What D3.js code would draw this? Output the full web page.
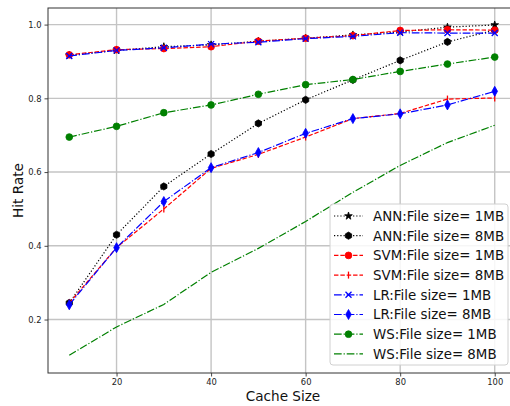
<!DOCTYPE html>
<html>
<head>
<meta charset="utf-8">
<script src="https://cdn.jsdelivr.net/npm/d3@7"></script>
<style>
  html, body { margin: 0; padding: 0; background: #fff; }
  svg { display: block; font-family: "DejaVu Sans", sans-serif; }
</style>
</head>
<body>
<svg id="chart" width="510" height="406"></svg>
<script>
// Cache sizes on the x axis
const cacheSizes = [10, 20, 30, 40, 50, 60, 70, 80, 90, 100];

// Hit rate per model and file size
const ann1MB = [0.917, 0.930, 0.940, 0.945, 0.955, 0.963, 0.972, 0.980, 0.993, 0.999];
const ann8MB = [0.245, 0.430, 0.561, 0.649, 0.732, 0.796, 0.850, 0.903, 0.953, 0.985];
const svm1MB = [0.918, 0.932, 0.935, 0.940, 0.955, 0.963, 0.970, 0.984, 0.986, 0.985];
const svm8MB = [0.245, 0.395, 0.500, 0.610, 0.648, 0.695, 0.745, 0.759, 0.798, 0.801];
const lr1MB  = [0.915, 0.930, 0.937, 0.947, 0.952, 0.962, 0.968, 0.978, 0.977, 0.977];
const lr8MB  = [0.240, 0.395, 0.520, 0.612, 0.653, 0.705, 0.745, 0.758, 0.782, 0.819];
const ws1MB  = [0.695, 0.724, 0.761, 0.782, 0.811, 0.837, 0.851, 0.873, 0.893, 0.912];
const ws8MB  = [0.103, 0.180, 0.241, 0.328, 0.393, 0.466, 0.545, 0.618, 0.680, 0.727];

const seriesNames = [
  "ANN:File size= 1MB", "ANN:File size= 8MB",
  "SVM:File size= 1MB", "SVM:File size= 8MB",
  "LR:File size= 1MB",  "LR:File size= 8MB",
  "WS:File size= 1MB",  "WS:File size= 8MB"
];
const seriesValues = [ann1MB, ann8MB, svm1MB, svm8MB, lr1MB, lr8MB, ws1MB, ws8MB];

const xTicks = [20, 40, 60, 80, 100];
const yTicks = [0.2, 0.4, 0.6, 0.8, 1.0];

// Per-series styling
const lw = 1.2;
const styles = [
  { color: "#000000", dash: [1 * lw, 1.65 * lw], marker: "star" },
  { color: "#000000", dash: [1 * lw, 1.65 * lw], marker: "hexagon" },
  { color: "#ff0000", dash: [3.7 * lw, 1.6 * lw], marker: "circle" },
  { color: "#ff0000", dash: [3.7 * lw, 1.6 * lw], marker: "vline" },
  { color: "#0000ff", dash: [6.4 * lw, 1.6 * lw, 1 * lw, 1.6 * lw], marker: "x" },
  { color: "#0000ff", dash: [6.4 * lw, 1.6 * lw, 1 * lw, 1.6 * lw], marker: "thindiamond" },
  { color: "#008000", dash: [6.4 * lw, 1.6 * lw, 1 * lw, 1.6 * lw], marker: "circle" },
  { color: "#008000", dash: [6.4 * lw, 1.6 * lw, 1 * lw, 1.6 * lw], marker: null }
];

const svg = d3.select("#chart");
const plot = { left: 48, right: 516, top: 8, bottom: 373 };

const x = d3.scaleLinear().domain([5.5, 104.5]).range([plot.left, plot.right]);
const y = d3.scaleLinear().domain([0.055, 1.045]).range([plot.bottom, plot.top]);

// Grid
const grid = svg.append("g");
grid.selectAll(".gx").data(xTicks).join("line")
  .attr("x1", d => x(d)).attr("x2", d => x(d))
  .attr("y1", plot.top).attr("y2", plot.bottom)
  .attr("stroke", "#c4c4c4").attr("stroke-width", 1.4);
grid.selectAll(".gy").data(yTicks).join("line")
  .attr("y1", d => y(d)).attr("y2", d => y(d))
  .attr("x1", plot.left).attr("x2", plot.right)
  .attr("stroke", "#c4c4c4").attr("stroke-width", 1.4);

// Axes
const xAxis = d3.axisBottom(x).tickValues(xTicks).tickSize(3.5).tickPadding(3)
  .tickFormat(d3.format("d"));
const yAxis = d3.axisLeft(y).tickValues(yTicks).tickSize(3.5).tickPadding(3)
  .tickFormat(d3.format(".1f"));

const gx = svg.append("g").attr("transform", `translate(0,${plot.bottom})`).call(xAxis);
const gy = svg.append("g").attr("transform", `translate(${plot.left},0)`).call(yAxis);
[gx, gy].forEach(g => {
  g.select(".domain").remove();
  g.selectAll(".tick line").attr("stroke", "#333").attr("stroke-width", 0.9);
  g.selectAll(".tick text").attr("fill", "#222").attr("font-size", 8.4)
    .attr("font-family", "DejaVu Sans");
});

// Frame
svg.append("rect")
  .attr("x", plot.left).attr("y", plot.top)
  .attr("width", plot.right - plot.left).attr("height", plot.bottom - plot.top)
  .attr("fill", "none").attr("stroke", "#333").attr("stroke-width", 1);

// Axis titles
svg.append("text")
  .attr("x", 283).attr("y", 401)
  .attr("text-anchor", "middle").attr("font-size", 13.6).attr("fill", "#111")
  .text("Cache Size");
svg.append("text")
  .attr("transform", `translate(23,${(plot.top + plot.bottom) / 2}) rotate(-90)`)
  .attr("text-anchor", "middle").attr("font-size", 13.6).attr("fill", "#111")
  .text("Hit Rate");

// Marker shapes
function markerPath(type) {
  switch (type) {
    case "star": return d3.symbol(d3.symbolStar, 18)();
    case "circle": return d3.symbol(d3.symbolCircle, 36)();
    case "hexagon": {
      const r = 3.6, pts = [];
      for (let i = 0; i < 6; i++) {
        const a = Math.PI / 2 + i * Math.PI / 3;
        pts.push([r * Math.cos(a), r * Math.sin(a)]);
      }
      return "M" + pts.map(p => p.join(",")).join("L") + "Z";
    }
    case "x": return "M-3,-3L3,3M-3,3L3,-3";
    case "vline": return "M0,-3.5L0,3.5";
    case "thindiamond": return "M0,-5L2.8,0L0,5L-2.8,0Z";
  }
  return null;
}
function drawMarker(g, type, color) {
  const p = markerPath(type);
  if (!p) return;
  const path = g.append("path").attr("d", p);
  if (type === "x" || type === "vline") {
    path.attr("fill", "none").attr("stroke", color).attr("stroke-width", 1.3);
  } else {
    path.attr("fill", color).attr("stroke", color).attr("stroke-width", 0.8);
  }
}

// Series, clipped to the axes box
svg.append("clipPath").attr("id", "plotclip").append("rect")
  .attr("x", plot.left).attr("y", plot.top)
  .attr("width", plot.right - plot.left).attr("height", plot.bottom - plot.top);

const line = d3.line().x(d => x(d[0])).y(d => y(d[1]));
const seriesG = svg.append("g").attr("clip-path", "url(#plotclip)");
seriesValues.forEach((vals, i) => {
  const st = styles[i];
  const pts = cacheSizes.map((c, j) => [c, vals[j]]);
  const g = seriesG.append("g");
  g.append("path").datum(pts).attr("d", line)
    .attr("fill", "none").attr("stroke", st.color).attr("stroke-width", lw)
    .attr("stroke-dasharray", st.dash.join(","));
  pts.forEach(p => {
    const mg = g.append("g").attr("transform", `translate(${x(p[0])},${y(p[1])})`);
    drawMarker(mg, st.marker, st.color);
  });
});

// Legend
const leg = svg.append("g").attr("transform", "translate(330,204)");
leg.append("rect").attr("x", 0).attr("y", 0).attr("width", 178).attr("height", 161)
  .attr("rx", 3).attr("fill", "#fff").attr("fill-opacity", 0.85)
  .attr("stroke", "#d0d0d0").attr("stroke-width", 1);
seriesNames.forEach((name, i) => {
  const st = styles[i];
  const cy = 12 + i * 19.7;
  const it = leg.append("g").attr("transform", `translate(0,${cy})`);
  it.append("line").attr("x1", 4).attr("x2", 33).attr("y1", 0).attr("y2", 0)
    .attr("stroke", st.color).attr("stroke-width", lw)
    .attr("stroke-dasharray", st.dash.join(","));
  const mg = it.append("g").attr("transform", "translate(18.5,0)");
  drawMarker(mg, st.marker, st.color);
  it.append("text").attr("x", 43).attr("y", 4.8).attr("font-size", 13.4)
    .attr("fill", "#111").text(name);
});
</script>
</body>
</html>
